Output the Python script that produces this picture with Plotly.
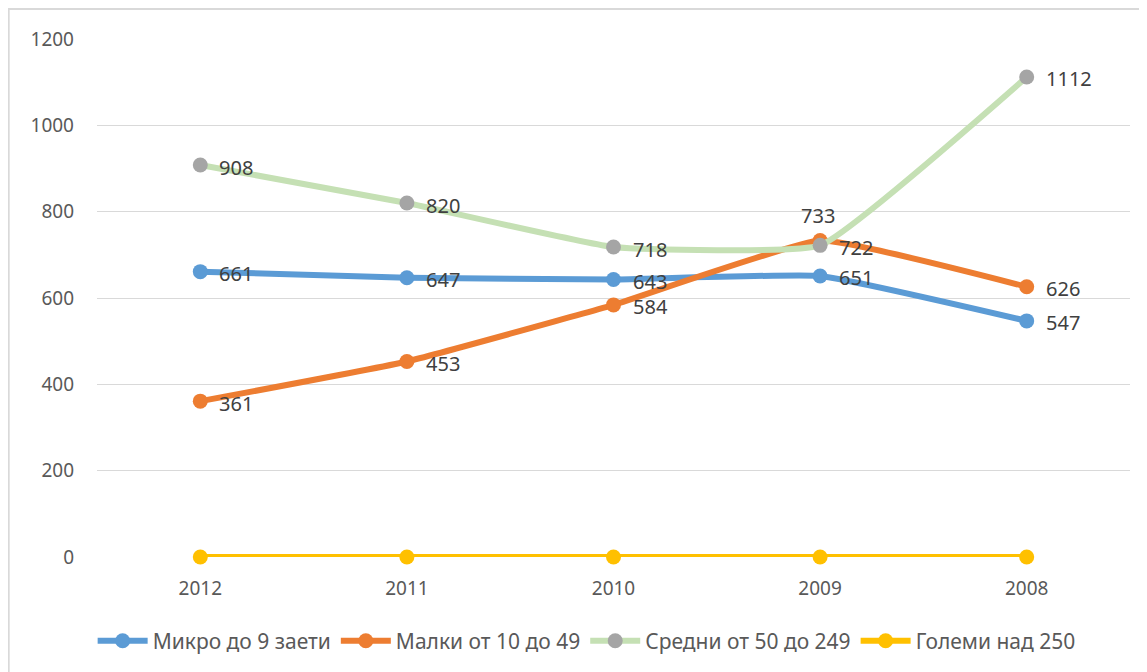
import plotly.graph_objects as go

years = ["2012", "2011", "2010", "2009", "2008"]
micro = [661, 647, 643, 651, 547]
small = [361, 453, 584, 733, 626]
medium = [908, 820, 718, 722, 1112]
large = [0, 0, 0, 0, 0]

names = ["Микро до 9 заети", "Малки от 10 до 49", "Средни от 50 до 249", "Големи над 250"]
y_ticks = [0, 200, 400, 600, 800, 1000, 1200]

FONT = "Noto Sans"
fig = go.Figure()
annotations = []

def add(series, name, line_color, marker_color, labels=True, above=()):
    fig.add_trace(go.Scatter(
        x=years, y=series, name=name, mode="lines+markers",
        line=dict(color=line_color, width=6, shape="spline", smoothing=0.35),
        marker=dict(color=marker_color, size=15),
        hoverinfo="skip", cliponaxis=False,
    ))
    if labels:
        for i, v in enumerate(series):
            # x given as category index (the axis is categorical)
            if i in above:
                annotations.append(dict(x=i, y=v, xref="x", yref="y", text=str(v), showarrow=False,
                                        xanchor="center", yanchor="bottom", xshift=-2, yshift=10,
                                        font=dict(family=FONT, size=20, color="#404040")))
            else:
                annotations.append(dict(x=i, y=v, xref="x", yref="y", text=str(v), showarrow=False,
                                        xanchor="left", yanchor="middle", xshift=17, yshift=-2,
                                        font=dict(family=FONT, size=20, color="#404040")))

add(micro, names[0], "#5B9BD5", "#5B9BD5")
add(small, names[1], "#ED7D31", "#ED7D31", above=(3,))
add(medium, names[2], "#C5E0B4", "#A5A5A5")
add(large, names[3], "#FFC000", "#FFC000", labels=False)

fig.update_layout(
    width=1139, height=664,
    margin=dict(l=89, r=17, t=31, b=114),
    paper_bgcolor="white", plot_bgcolor="white",
    font=dict(family=FONT, color="#595959"),
    showlegend=True,
    legend=dict(orientation="h", x=0.474, xanchor="center", y=-0.16, yanchor="middle",
                font=dict(family=FONT, size=21, color="#595959"),
                itemwidth=50, traceorder="normal"),
    xaxis=dict(type="category", range=[-0.5, 4.5], showgrid=False, zeroline=False,
               showline=False, ticks="", ticklabelstandoff=18,
               tickfont=dict(family=FONT, size=19, color="#595959")),
    yaxis=dict(range=[0, 1200], tickvals=y_ticks, showgrid=True, gridcolor="#D9D9D9",
               gridwidth=1, zeroline=False, showline=False, ticks="", ticklabelstandoff=22,
               tickfont=dict(family=FONT, size=19, color="#595959")),
    annotations=annotations,
    shapes=[
        dict(type="line", xref="paper", yref="paper", x0=-0.0855, x1=-0.0855, y0=1.058, y1=-0.3,
             line=dict(color="#D9D9D9", width=2)),
        dict(type="line", xref="paper", yref="paper", x0=-0.0862, x1=1.05, y0=1.058, y1=1.058,
             line=dict(color="#D9D9D9", width=2)),
    ],
)

fig.write_html("out.html")
